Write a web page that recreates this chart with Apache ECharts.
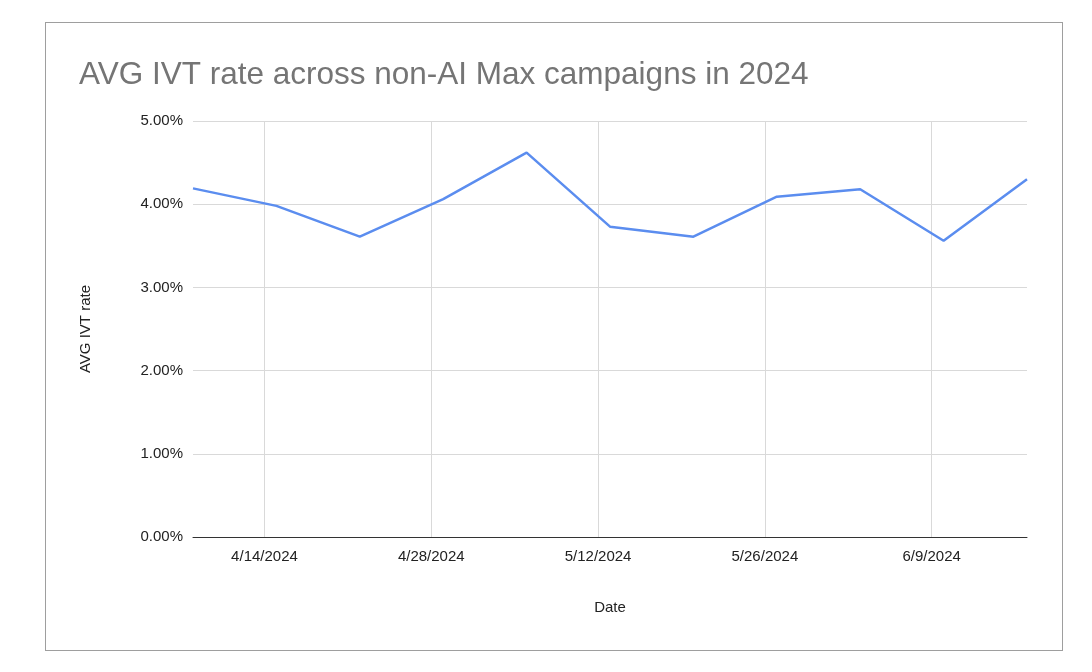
<!DOCTYPE html>
<html><head><meta charset="utf-8">
<script src="https://cdn.jsdelivr.net/npm/echarts@6/dist/echarts.min.js"></script>
<style>html,body{margin:0;padding:0;background:#fff}#c{width:1092px;height:672px}
#b{position:absolute;left:45px;top:22px;width:1016px;height:627px;border:1px solid #9e9e9e;pointer-events:none}</style>
</head><body><div id="c"></div><div id="b"></div>
<script>
const pointDates = ['4/8/2024','4/15/2024','4/22/2024','4/29/2024','5/6/2024','5/13/2024','5/20/2024','5/27/2024','6/3/2024','6/10/2024','6/17/2024'];
const ivtRates = [4.19,3.98,3.61,4.06,4.62,3.73,3.61,4.09,4.18,3.56,4.30];
const tickLabels = ['4/14/2024','4/28/2024','5/12/2024','5/26/2024','6/9/2024'];
const yTicks = [0,1,2,3,4,5];

const days = [];
const start = new Date(2024,3,8), end = new Date(2024,5,17);
for (let d = new Date(start); d <= end; d.setDate(d.getDate()+1)) {
  days.push((d.getMonth()+1)+'/'+d.getDate()+'/'+d.getFullYear());
}
const vals = days.map(d => { const i = pointDates.indexOf(d); return i >= 0 ? ivtRates[i] : null; });
const isTick = (i, v) => tickLabels.indexOf(v) >= 0;

const chart = echarts.init(document.getElementById('c'));
chart.setOption({
  animation: false,
  title: {text: 'AVG IVT rate across non-AI Max campaigns in 2024', left: 74, top: 54,
    textStyle: {fontFamily: 'Liberation Sans, Arial', fontSize: 31.5, fontWeight: 'normal', color: '#757575'}},
  grid: {left: 193, right: 65, top: 121, bottom: 135},
  xAxis: {type: 'category', data: days, boundaryGap: false,
    name: 'Date', nameLocation: 'middle', nameGap: 63,
    nameTextStyle: {fontFamily: 'Liberation Sans, Arial', fontSize: 15, color: '#222'},
    axisLine: {lineStyle: {color: '#333'}},
    axisTick: {show: false},
    axisLabel: {interval: isTick, fontFamily: 'Liberation Sans, Arial', fontSize: 15, color: '#222', margin: 12},
    splitLine: {show: true, interval: isTick, lineStyle: {color: '#d9d9d9'}}},
  yAxis: {type: 'value', min: 0, max: 5, interval: 1,
    name: 'AVG IVT rate', nameLocation: 'middle', nameGap: 100,
    nameTextStyle: {fontFamily: 'Liberation Sans, Arial', fontSize: 15, color: '#222'},
    axisLine: {show: false}, axisTick: {show: false},
    axisLabel: {formatter: v => v.toFixed(2) + '%', fontFamily: 'Liberation Sans, Arial', fontSize: 15, color: '#222', margin: 10},
    splitLine: {lineStyle: {color: '#d9d9d9'}}},
  series: [{type: 'line', data: vals, connectNulls: true, showSymbol: false,
    lineStyle: {color: '#5b8def', width: 2.5}, itemStyle: {color: '#5b8def'}}]
});
</script></body></html>
